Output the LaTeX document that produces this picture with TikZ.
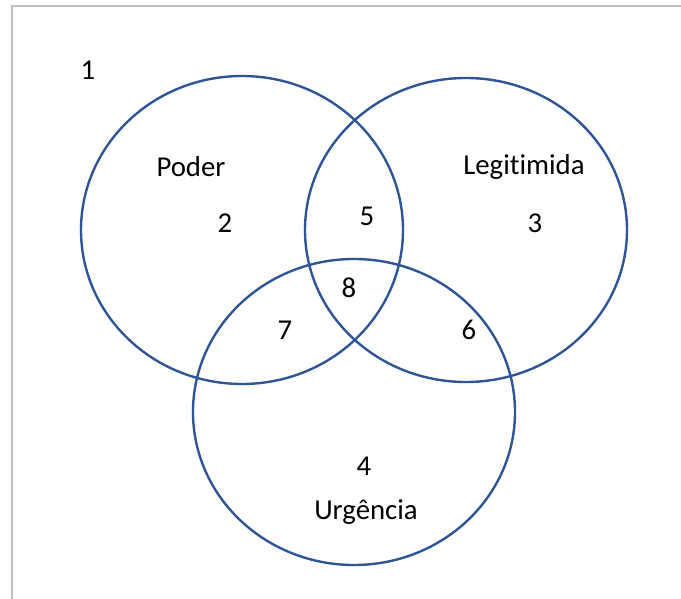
\documentclass[tikz,border=0pt]{standalone}
\usepackage{fontspec}
\setmainfont{Carlito}[Ligatures=CommonOff]
\definecolor{venn}{HTML}{2F5597}
\definecolor{frame}{HTML}{BFBFBF}
\begin{document}
\begin{tikzpicture}[x=1pt,y=-1pt,
  set/.style={draw=venn,line width=2.4pt},
  lbl/.style={font=\fontsize{28.8}{34}\selectfont,inner sep=0pt,text=black}]
\useasboundingbox (0,0) rectangle (681,599);
% frame edges
\draw[frame,line width=2pt] (12,599) -- (12,6) -- (681,6);
% the three sets
\draw[set] (242,230) ellipse [x radius=161,y radius=154];
\draw[set] (466,230) ellipse [x radius=161,y radius=152];
\draw[set] (354,412) ellipse [x radius=161,y radius=153];
% region labels
\node[lbl] (r1) at (88,70) {1};
\node[lbl] (poder) at (191,167) {Poder};
\node[lbl] (r2) at (225,223) {2};
\node[lbl] (r5) at (367,216) {5};
\node[lbl] (leg) at (524,167) {Legitimida};
\node[lbl] (r3) at (535,223) {3};
\node[lbl] (r8) at (349,288) {8};
\node[lbl] (r7) at (285,330) {7};
\node[lbl] (r6) at (469,330) {6};
\node[lbl] (r4) at (364,466) {4};
\node[lbl] (urg) at (366,512) {Urgência};
\end{tikzpicture}
\end{document}
